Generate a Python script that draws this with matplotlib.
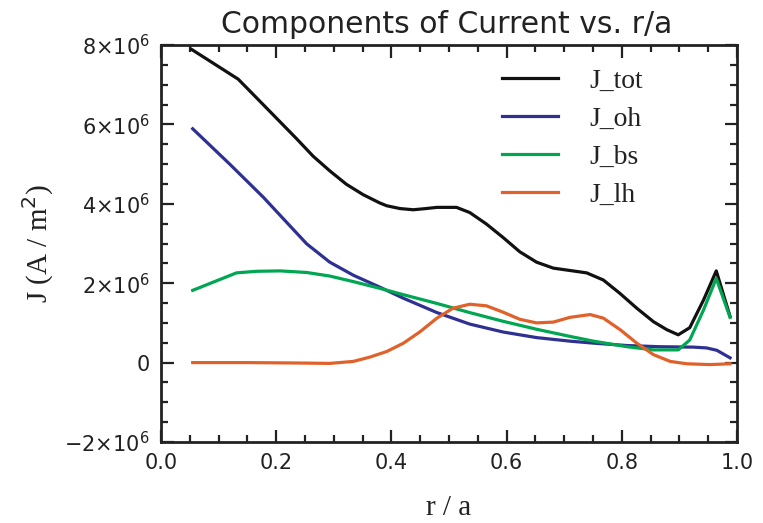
import matplotlib
matplotlib.use("Agg")
import matplotlib.pyplot as plt
from matplotlib.ticker import MultipleLocator, FuncFormatter

# ---- data ----
x_tot = [0.053, 0.134, 0.178, 0.207, 0.236, 0.264, 0.293, 0.322, 0.351, 0.380,
         0.392, 0.415, 0.438, 0.460, 0.479, 0.513, 0.536, 0.565, 0.594, 0.623,
         0.652, 0.681, 0.710, 0.739, 0.768, 0.797, 0.826, 0.855, 0.878, 0.898,
         0.918, 0.942, 0.964, 0.988]
j_tot = [7.89e6, 7.14e6, 6.49e6, 6.06e6, 5.63e6, 5.20e6, 4.83e6, 4.49e6, 4.23e6, 4.02e6,
         3.95e6, 3.88e6, 3.85e6, 3.88e6, 3.91e6, 3.91e6, 3.78e6, 3.49e6, 3.15e6, 2.79e6,
         2.53e6, 2.38e6, 2.32e6, 2.26e6, 2.08e6, 1.74e6, 1.37e6, 1.03e6, 0.83e6, 0.70e6,
         0.88e6, 1.58e6, 2.31e6, 1.16e6]

x_oh = [0.055, 0.120, 0.178, 0.210, 0.253, 0.293, 0.334, 0.380, 0.421, 0.479,
        0.536, 0.594, 0.652, 0.710, 0.751, 0.809, 0.866, 0.924, 0.947, 0.965, 0.988]
j_oh = [5.89e6, 4.99e6, 4.16e6, 3.66e6, 2.99e6, 2.53e6, 2.20e6, 1.90e6, 1.62e6, 1.26e6,
        0.97e6, 0.77e6, 0.63e6, 0.54e6, 0.49e6, 0.43e6, 0.40e6, 0.39e6, 0.37e6, 0.31e6, 0.12e6]

x_bs = [0.055, 0.131, 0.166, 0.207, 0.253, 0.293, 0.334, 0.380, 0.421, 0.479,
        0.536, 0.594, 0.652, 0.710, 0.751, 0.809, 0.855, 0.898, 0.918, 0.942, 0.964, 0.988]
j_bs = [1.82e6, 2.26e6, 2.30e6, 2.31e6, 2.27e6, 2.18e6, 2.04e6, 1.87e6, 1.71e6, 1.49e6,
        1.26e6, 1.04e6, 0.84e6, 0.66e6, 0.54e6, 0.40e6, 0.32e6, 0.32e6, 0.57e6, 1.33e6, 2.12e6, 1.14e6]

x_lh = [0.055, 0.149, 0.236, 0.293, 0.334, 0.363, 0.392, 0.421, 0.450, 0.479,
        0.507, 0.536, 0.565, 0.594, 0.623, 0.652, 0.681, 0.710, 0.745, 0.768,
        0.797, 0.826, 0.855, 0.884, 0.913, 0.953, 0.988]
j_lh = [0.0, 0.0, -0.01e6, -0.02e6, 0.03e6, 0.14e6, 0.28e6, 0.49e6, 0.78e6, 1.12e6,
        1.37e6, 1.47e6, 1.43e6, 1.27e6, 1.09e6, 1.00e6, 1.02e6, 1.14e6, 1.21e6, 1.12e6,
        0.83e6, 0.49e6, 0.20e6, 0.03e6, -0.03e6, -0.05e6, -0.03e6]

labels = ["J_tot", "J_oh", "J_bs", "J_lh"]
colors = ["#111111", "#2E3192", "#00A651", "#E0622A"]

title = "Components of Current vs. r/a"
xlabel = "r / a"
ylabel = r"J (A / m$^2$)"

# ---- figure ----
fig = plt.figure(figsize=(7.63, 5.23), dpi=100)
ax = fig.add_axes([161/763, 1-442/523, (737-161)/763, (442-45)/523])

series = [(x_tot, j_tot), (x_oh, j_oh), (x_bs, j_bs), (x_lh, j_lh)]
for (xs, ys), lab, c in zip(series, labels, colors):
    ax.plot(xs, ys, color=c, lw=2.3, label=lab, solid_joinstyle="round")

ax.set_xlim(0, 1)
ax.set_ylim(-2e6, 8e6)
ax.xaxis.set_major_locator(MultipleLocator(0.2))
ax.xaxis.set_minor_locator(MultipleLocator(0.05))
ax.yaxis.set_major_locator(MultipleLocator(2e6))
ax.yaxis.set_minor_locator(MultipleLocator(0.5e6))

def yfmt(v, pos):
    if abs(v) < 1:
        return "0"
    m = int(round(v / 1e6))
    sign = "\u2212" if m < 0 else ""
    return sign + str(abs(m)) + r"$\times$10$^{6}$"

ax.yaxis.set_major_formatter(FuncFormatter(yfmt))
ax.xaxis.set_major_formatter(FuncFormatter(lambda v, p: f"{v:.1f}"))

tickfont = ["DejaVu Sans"]
ax.tick_params(which="both", direction="in", top=True, right=True, width=1.6, color="#222222")
ax.tick_params(which="major", length=9, labelsize=15, pad=8)
ax.tick_params(which="minor", length=5)
for lab in ax.get_xticklabels() + ax.get_yticklabels():
    lab.set_family(tickfont)
    lab.set_color("#222222")
for s in ax.spines.values():
    s.set_linewidth(2.0)
    s.set_color("#222222")

serif = ["Liberation Serif", "DejaVu Serif"]
ax.set_xlabel(xlabel, fontsize=21, family=serif, labelpad=16, color="#222222")
ax.set_ylabel(ylabel, fontsize=21, family=serif, labelpad=6, color="#222222")
fig.text(0.585, 1 - 33/523, title, fontsize=21.5, ha="center", va="baseline",
         family=["DejaVu Sans"], color="#222222")

leg = ax.legend(loc="upper left", bbox_to_anchor=(0.658, 0.870), bbox_transform=fig.transFigure,
                frameon=False, prop={"family": serif, "size": 20},
                handlelength=2.0, handletextpad=1.15, labelspacing=0.46,
                borderpad=0, borderaxespad=0)
for t in leg.get_texts():
    t.set_color("#222222")

fig.savefig("out.png", dpi=100)
